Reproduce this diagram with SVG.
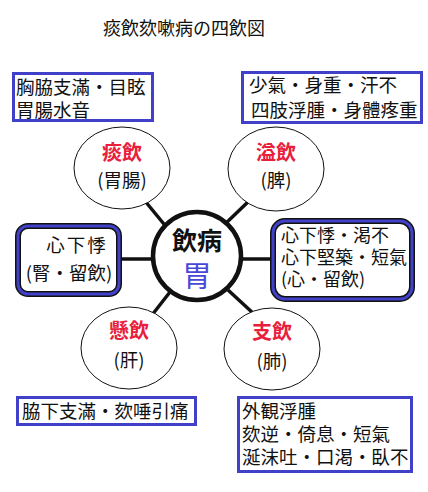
<svg xmlns="http://www.w3.org/2000/svg" width="428" height="492" viewBox="0 0 428 492">
<style>
text{font-family:"Noto Sans CJK JP","Noto Sans CJK SC",sans-serif;fill:#111}
.t{font-size:18.5px}
.rt{font-size:18px}
.box{fill:#fff;stroke:#4040c8;stroke-width:3}
.rb{fill:#fff;stroke:#111;stroke-width:6}
.rbi{fill:none;stroke:#4040c8;stroke-width:3}
.el{fill:#fff;stroke:#111;stroke-width:1}
.red{font-size:20px;font-weight:bold;fill:#e8203c}
.sub{font-size:18.5px}
.con line{stroke:#111;stroke-width:3.5}
</style>
<rect width="428" height="492" fill="#fff"/>
<text x="184" y="35" class="t" text-anchor="middle" style="font-size:18px">痰飲欬嗽病の四飲図</text>
<g class="con">
<line x1="145" y1="201" x2="168" y2="229"/>
<line x1="250" y1="200" x2="224" y2="225"/>
<line x1="152" y1="315" x2="170" y2="292"/>
<line x1="254" y1="314" x2="228" y2="290"/>
<line x1="120" y1="259" x2="153" y2="259"/>
<line x1="241" y1="259" x2="272" y2="259"/>
</g>
<g id="box-tl"><rect class="box" x="13.5" y="73.5" width="139" height="47"/>
<text class="t" x="16" y="94">胸脇支滿・目眩</text><text class="t" x="16" y="117">胃腸水音</text></g>
<g id="box-tr"><rect class="box" x="242.5" y="72.5" width="179" height="50"/>
<text class="t" x="249" y="92">少氣・身重・汗不</text><text class="t" x="251" y="117">四肢浮腫・身體疼重</text></g>
<g id="tanin"><ellipse class="el" cx="122" cy="168" rx="48" ry="41"/>
<text class="red" x="122" y="160" text-anchor="middle">痰飲</text><text class="sub" x="122" y="187" text-anchor="middle">(胃腸)</text></g>
<g id="itsuin"><ellipse class="el" cx="276" cy="169" rx="48" ry="42"/>
<text class="red" x="276" y="160" text-anchor="middle">溢飲</text><text class="sub" x="276" y="187" text-anchor="middle">(脾)</text></g>
<g id="kenin"><ellipse class="el" cx="129" cy="348" rx="48" ry="41"/>
<text class="red" x="129" y="338" text-anchor="middle">懸飲</text><text class="sub" x="129" y="367" text-anchor="middle">(肝)</text></g>
<g id="shiin"><ellipse class="el" cx="272" cy="349" rx="48" ry="41"/>
<text class="red" x="272" y="339" text-anchor="middle">支飲</text><text class="sub" x="272" y="368" text-anchor="middle">(肺)</text></g>
<g id="center"><circle cx="197" cy="256" r="44" fill="#fff" stroke="#111" stroke-width="4.5"/>
<text x="197" y="250" text-anchor="middle" style="font-size:25px;font-weight:bold">飲病</text>
<text x="197" y="287" text-anchor="middle" style="font-size:29px;fill:#4848d8">胃</text></g>
<g id="box-l"><rect class="rb" x="18" y="226" width="101" height="68" rx="10"/><rect class="rbi" x="18" y="226" width="101" height="68" rx="10"/>
<text class="t" x="77" y="252" text-anchor="middle" letter-spacing="2">心下悸</text><text class="t" x="69" y="280" text-anchor="middle">(腎・留飲)</text></g>
<g id="box-r"><rect class="rb" x="273" y="221" width="139" height="78" rx="12"/><rect class="rbi" x="273" y="221" width="139" height="78" rx="12"/>
<text class="rt" x="281" y="242">心下悸・渇不</text><text class="rt" x="281" y="264">心下堅築・短氣</text><text class="rt" x="281" y="286">(心・留飲)</text></g>
<g id="box-bl"><rect class="box" x="17.5" y="397.5" width="178" height="27"/>
<text class="t" x="22" y="418">脇下支滿・欬唾引痛</text></g>
<g id="box-br"><rect class="box" x="238.5" y="397.5" width="173" height="74"/>
<text class="t" x="242" y="418">外観浮腫</text><text class="t" x="242" y="441">欬逆・倚息・短氣</text><text class="t" x="242" y="464">涎沫吐・口渇・臥不</text></g>
</svg>
